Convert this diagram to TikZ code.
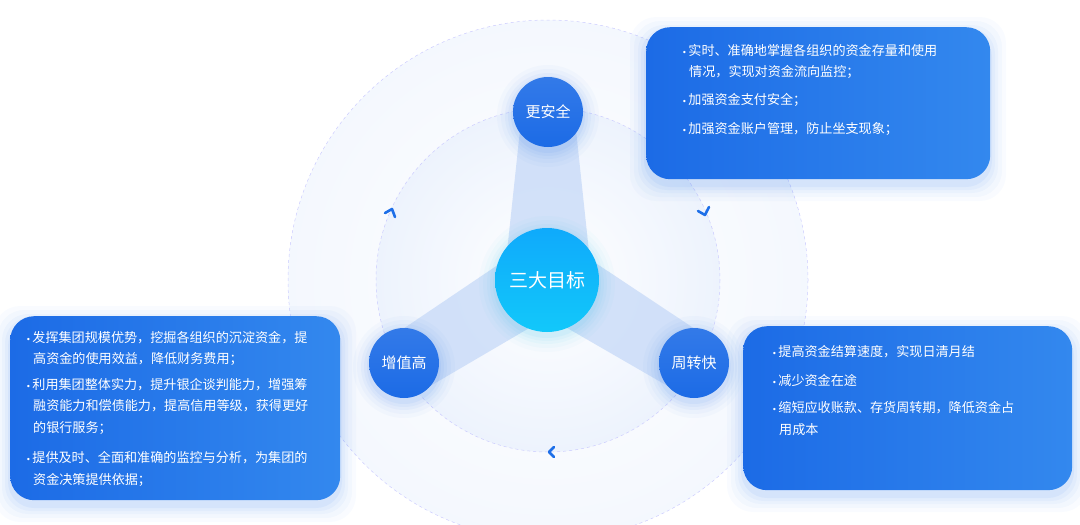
\documentclass[tikz,border=0pt]{standalone}
\usepackage{fontspec}
\setmainfont{Noto Sans CJK SC}
\newfontfamily\bulfont{DejaVu Sans}
\usetikzlibrary{shadings}
\definecolor{boxA}{HTML}{1C6BE6}
\definecolor{boxB}{HTML}{3388EE}
\definecolor{ring}{HTML}{EDF3FD}
\definecolor{spoke}{HTML}{C9DBF8}
\definecolor{cyanC}{HTML}{12C8FA}
\definecolor{chev}{HTML}{1E6FE8}
\definecolor{glow}{HTML}{4C8DF0}
\newcommand{\bul}{{\bulfont\fontsize{8}{8}\selectfont•}\hspace{1.5pt}}
\tikzset{
 txt/.style={anchor=west,text=white,font=\fontsize{13.1}{14}\selectfont,inner sep=0pt},
 goal/.style={circle,minimum size=70pt,inner sep=0pt,text=white,font=\fontsize{15}{17}\selectfont,shading=axis,top color=boxA!90!white,bottom color=boxA},
 panel/.style={rounded corners=24pt,left color=boxA,right color=boxB,draw=none},
 chevron/.style={draw=chev,line width=2.6pt,line cap=round,line join=round}
}
\begin{document}
\begin{tikzpicture}[x=1pt,y=-1pt]
\useasboundingbox (0,0) rectangle (1080,525);
% rings
\shade[inner color=white,outer color=ring!60] (548,280) circle (260);
\draw[blue!20,dashed,line width=0.5pt] (548,280) circle (260);
\shade[inner color=white,outer color=ring] (548,280) circle (172);
\draw[blue!20,dashed,line width=0.5pt] (548,280) circle (172);
% spokes
\fill[spoke,opacity=0.8] (520,130) -- (576,130) -- (592,280) -- (504,280) -- cycle;
\fill[spoke,opacity=0.8] (394,335) -- (420,392) -- (560,310) -- (520,250) -- cycle;
\fill[spoke,opacity=0.8] (704,335) -- (678,392) -- (536,310) -- (576,250) -- cycle;
% glows
\foreach \r/\o in {16/0.03,12/0.04,8/0.05,5/0.06,2/0.08}{
 \fill[glow,opacity=\o,rounded corners=26pt] (646-\r,27-\r+6) rectangle (990+\r,179+\r+6);
 \fill[glow,opacity=\o,rounded corners=26pt] (10-\r,316-\r+6) rectangle (340+\r,500+\r+6);
 \fill[glow,opacity=\o,rounded corners=26pt] (743-\r,326-\r+6) rectangle (1072+\r,490+\r+6);
 \fill[glow,opacity=\o] (548,116) circle (35+\r);
 \fill[glow,opacity=\o] (404,367) circle (35+\r);
 \fill[glow,opacity=\o] (694,367) circle (35+\r);
 \fill[cyan!70,opacity=\o] (547,284) circle (52+\r);
}
% chevrons
\coordinate (c1a) at (385,213); \coordinate (c1b) at (392,209); \coordinate (c1c) at (395,217);
\draw[chevron] (c1a) -- (c1b) -- (c1c);
\coordinate (c2a) at (698,211); \coordinate (c2b) at (705,215); \coordinate (c2c) at (709,207);
\draw[chevron] (c2a) -- (c2b) -- (c2c);
\coordinate (c3a) at (554,447); \coordinate (c3b) at (549,452); \coordinate (c3c) at (554,457);
\draw[chevron] (c3a) -- (c3b) -- (c3c);
% goal nodes
\node[circle,minimum size=104pt,inner sep=0pt,shading=axis,top color=cyanC!85!blue,bottom color=cyanC,text=white,font=\fontsize{19}{21}\selectfont] (center) at (547,280) {三大目标};
\node[goal] (safe) at (548,112) {更安全};
\node[goal] (value) at (404,363) {增值高};
\node[goal] (fast) at (694,363) {周转快};
% panels
\node[panel,minimum width=344pt,minimum height=152pt,anchor=north west] (ptop) at (646,27) {};
\node[panel,minimum width=330pt,minimum height=184pt,anchor=north west] (pleft) at (10,316) {};
\node[panel,minimum width=329pt,minimum height=164pt,anchor=north west] (pright) at (743,326) {};
% top text
\node[txt] (t1) at (682,50) {\bul 实时、准确地掌握各组织的资金存量和使用};
\node[txt] (t2) at (689,72) {情况，实现对资金流向监控；};
\node[txt] (t3) at (682,100) {\bul 加强资金支付安全；};
\node[txt] (t4) at (682,129) {\bul 加强资金账户管理，防止坐支现象；};
% left text
\node[txt] (l1) at (26,338) {\bul 发挥集团规模优势，挖掘各组织的沉淀资金，提};
\node[txt] (l2) at (33,359) {高资金的使用效益，降低财务费用；};
\node[txt] (l3) at (26,385) {\bul 利用集团整体实力，提升银企谈判能力，增强筹};
\node[txt] (l4) at (33,406) {融资能力和偿债能力，提高信用等级，获得更好};
\node[txt] (l5) at (33,428) {的银行服务；};
\node[txt] (l6) at (26,458) {\bul 提供及时、全面和准确的监控与分析，为集团的};
\node[txt] (l7) at (33,480) {资金决策提供依据；};
% right text
\node[txt] (r1) at (772,352) {\bul 提高资金结算速度，实现日清月结};
\node[txt] (r2) at (772,380) {\bul 减少资金在途};
\node[txt] (r3) at (772,408) {\bul 缩短应收账款、存货周转期，降低资金占};
\node[txt] (r4) at (779,430) {用成本};
\end{tikzpicture}
\end{document}
